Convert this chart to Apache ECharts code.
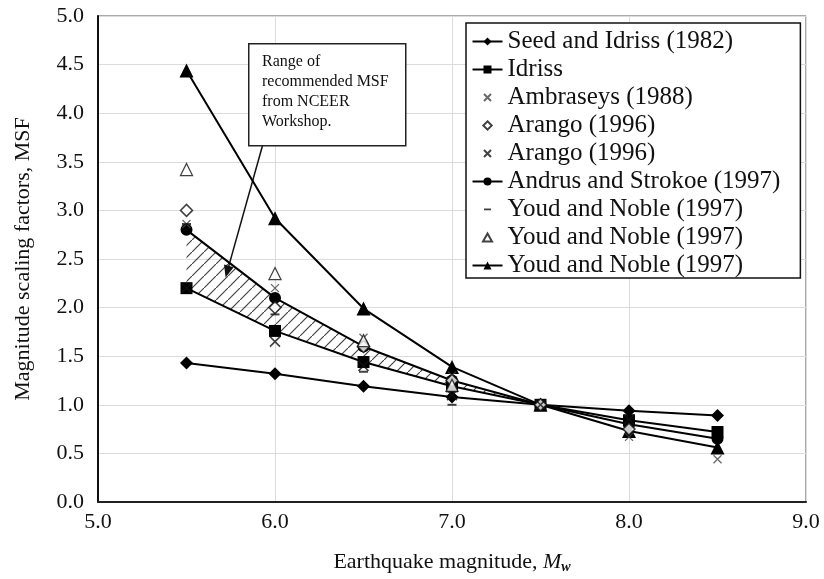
<!DOCTYPE html>
<html>
<head>
<meta charset="utf-8">
<script src="https://cdn.jsdelivr.net/npm/echarts@6/dist/echarts.min.js"></script>
<style>
html,body{margin:0;padding:0;background:#fff;}
#chart{width:824px;height:579px;}
</style>
</head>
<body>
<div id="chart"></div>
<script>
// ---- data ----
const magnitudes = [5.5, 6.0, 6.5, 7.0, 7.5, 8.0, 8.5];
const seedIdriss1982 = [1.43, 1.32, 1.19, 1.08, 1.00, 0.94, 0.89];
const idriss = [2.20, 1.76, 1.44, 1.19, 1.00, 0.84, 0.72];
const ambraseys1988 = [2.86, 2.20, 1.69, 1.30, 1.00, 0.67, 0.44];
const arango1996a = [3.00, 2.00, 1.60, 1.25, 1.00, 0.75, null];
const arango1996b = [2.20, 1.65, 1.40, 1.10, 1.00, 0.85, null];
const andrusStokoe1997 = [2.80, 2.10, 1.60, 1.25, 1.00, 0.80, 0.65];
const youdNoble20 = [2.86, 1.93, 1.34, 1.00, null, null, null];
const youdNoble32 = [3.42, 2.35, 1.66, 1.20, null, null, null];
const youdNoble50 = [4.44, 2.92, 1.99, 1.39, 1.00, 0.73, 0.56];
const rangeMagnitudes = [5.5, 6.0, 6.5, 7.0, 7.5];
const arrowFrom = [5.93, 3.67];
const arrowTo = [5.73, 2.37];
const legendNames = {
  seed: 'Seed and Idriss (1982)', idr: 'Idriss', amb: 'Ambraseys (1988)',
  ara: 'Arango (1996)', arb: 'Arango (1996)', and: 'Andrus and Strokoe (1997)',
  y20: 'Youd and Noble (1997)', y32: 'Youd and Noble (1997)', y50: 'Youd and Noble (1997)'
};
const annotationText = 'Range of\nrecommended MSF\nfrom NCEER\nWorkshop.';
// ---------------

const SERIF = "'Liberation Serif','Times New Roman',serif";
function pts(ys){ return magnitudes.map((x,i)=> ys[i]==null ? null : [x, ys[i]]).filter(Boolean); }

const hatch = document.createElement('canvas');
hatch.width = 12; hatch.height = 12;
(function(){
  const c = hatch.getContext('2d');
  c.strokeStyle = '#444'; c.lineWidth = 1.2;
  c.beginPath(); c.moveTo(0,12); c.lineTo(12,0); c.stroke();
})();

const XPATH = 'path://M0,0L10,10M10,0L0,10';
const FRAME = 'path://M0,0M30,10';
const lineBase = {type:'line', lineStyle:{color:'#000', width:2}, itemStyle:{color:'#000'}, z:5, showSymbol:true};
const scatterBase = {type:'scatter', z:6};

const chart = echarts.init(document.getElementById('chart'), null, {renderer:'canvas'});
chart.setOption({
  animation:false,
  backgroundColor:'#fff',
  grid:{left:98, right:18, top:16, bottom:77, show:true, borderColor:'#555', borderWidth:1},
  xAxis:{type:'value', min:5, max:9, interval:1,
    axisLine:{show:true, lineStyle:{color:'#222', width:2}},
    axisTick:{show:false},
    splitLine:{show:true, lineStyle:{color:'#dcdcdc', width:1}},
    axisLabel:{color:'#111', fontFamily:SERIF, fontSize:22, margin:9, formatter:v=>v.toFixed(1)},
    name:'{a|Earthquake magnitude, }{i|M}{s|w}', nameLocation:'middle', nameGap:48,
    nameTextStyle:{rich:{a:{fontFamily:SERIF,fontSize:22,color:'#111'}, i:{fontFamily:SERIF,fontSize:22,fontStyle:'italic',color:'#111'}, s:{fontFamily:SERIF,fontSize:14,fontStyle:'italic',fontWeight:'bold',color:'#111',padding:[10,0,0,0]}}}
  },
  yAxis:{type:'value', min:0, max:5, interval:0.5,
    axisLine:{show:true, lineStyle:{color:'#111', width:2}},
    axisTick:{show:false},
    splitLine:{show:true, lineStyle:{color:'#dcdcdc', width:1}},
    axisLabel:{color:'#111', fontFamily:SERIF, fontSize:22, margin:14, formatter:v=>v.toFixed(1)},
    name:'Magnitude scaling factors, MSF', nameLocation:'middle', nameGap:64,
    nameTextStyle:{fontFamily:SERIF, fontSize:22, color:'#111'}
  },
  legend:{
    left:466, top:23, orient:'vertical', itemWidth:30, itemHeight:10, itemGap:3,
    padding:[6,20,0,4], borderColor:'#111', borderWidth:1.5, backgroundColor:'#fff',
    textStyle:{fontFamily:SERIF, fontSize:25, color:'#111', lineHeight:24},
    formatter:n=>legendNames[n], selectedMode:false,
    data:['seed','idr',
      {name:'amb', icon:FRAME+'M11.5,1.5L18.5,8.5M18.5,1.5L11.5,8.5'},
      {name:'ara', icon:FRAME+'M15,0.8L19.2,5L15,9.2L10.8,5Z'},
      {name:'arb', icon:FRAME+'M11.5,1.5L18.5,8.5M18.5,1.5L11.5,8.5'},
      'and',
      {name:'y20', icon:FRAME+'M11.5,4L18.5,4L18.5,5.8L11.5,5.8Z'},
      {name:'y32', icon:FRAME+'M15,1L19.5,9L10.5,9Z'},
      'y50']
  },
  graphic:[
    {type:'rect', left:248, top:43, shape:{width:157, height:102}, style:{fill:'#fff', stroke:'#222', lineWidth:1.5}, z:20},
    {type:'text', left:262, top:52, style:{text:annotationText, fontFamily:SERIF, fontSize:16, lineHeight:20, fill:'#111'}, z:21}
  ],
  series:[
    {type:'custom', name:'range', z:2, silent:true, data:[[rangeMagnitudes[0], andrusStokoe1997[0]]],
      renderItem:function(params, api){
        const up = rangeMagnitudes.map((x,i)=>api.coord([x, andrusStokoe1997[i]]));
        const lo = rangeMagnitudes.map((x,i)=>api.coord([x, idriss[i]])).reverse();
        return {type:'polygon', shape:{points:up.concat(lo)}, style:{fill:{image:hatch, repeat:'repeat'}, stroke:null}};
      }},
    Object.assign({}, lineBase, {name:'seed', data:pts(seedIdriss1982), symbol:'diamond', symbolSize:13}),
    Object.assign({}, lineBase, {name:'idr', data:pts(idriss), symbol:'rect', symbolSize:12}),
    Object.assign({}, scatterBase, {name:'amb', data:pts(ambraseys1988), symbol:XPATH, symbolSize:8, itemStyle:{color:'none', borderColor:'#444', borderWidth:1.3}}),
    Object.assign({}, scatterBase, {name:'ara', data:pts(arango1996a), symbol:'diamond', symbolSize:12, itemStyle:{color:'#fff', borderColor:'#111', borderWidth:1.5}}),
    Object.assign({}, scatterBase, {name:'arb', data:pts(arango1996b), symbol:XPATH, symbolSize:10, itemStyle:{color:'none', borderColor:'#111', borderWidth:1.6}}),
    Object.assign({}, lineBase, {name:'and', data:pts(andrusStokoe1997), symbol:'circle', symbolSize:12}),
    Object.assign({}, scatterBase, {name:'y20', data:pts(youdNoble20), symbol:'rect', symbolSize:[9,2], itemStyle:{color:'#111'}}),
    Object.assign({}, scatterBase, {name:'y32', data:pts(youdNoble32), symbol:'triangle', symbolSize:12, itemStyle:{color:'#fff', borderColor:'#111', borderWidth:1.3}}),
    Object.assign({}, lineBase, {name:'y50', data:pts(youdNoble50), symbol:'triangle', symbolSize:14,
      markLine:{silent:true, symbol:['none','triangle'], symbolSize:[10,12], label:{show:false},
        lineStyle:{color:'#111', width:1.5, type:'solid'},
        data:[[{coord:arrowFrom},{coord:arrowTo}]]}})
  ]
});
</script>
</body>
</html>
